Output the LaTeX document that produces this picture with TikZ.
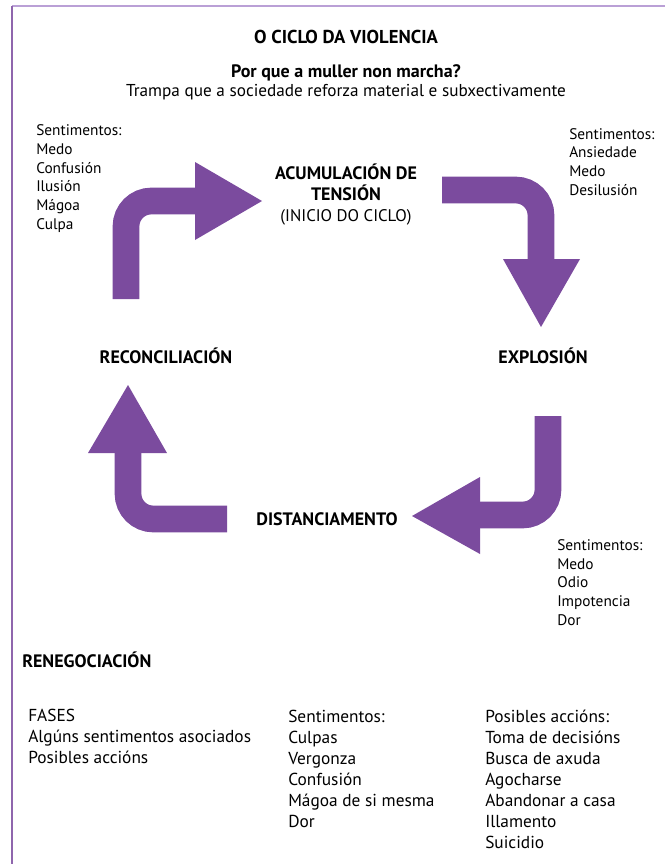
\documentclass[tikz,border=0pt]{standalone}
\usepackage{fontspec}
\setmainfont{PT Sans}
\usepackage{xcolor}
\definecolor{cyclepurple}{RGB}{123,75,158}
\definecolor{framelilac}{RGB}{186,160,214}

\begin{document}
\begin{tikzpicture}[
    x=0.75pt, y=-0.75pt,
    txt/.style={inner sep=0pt, align=left, anchor=base west, font=\fontsize{11.5}{14}\selectfont},
    phase/.style={inner sep=0pt, align=center, anchor=base, font=\fontsize{13.5}{15.5}\selectfont\bfseries},
    bottomlist/.style={inner sep=0pt, align=left, anchor=base west, font=\fontsize{13}{15.75}\selectfont},
    shaft/.style={draw=cyclepurple, line width=20pt, rounded corners=19pt},
    head/.style={fill=cyclepurple},
]

\useasboundingbox (0,0) rectangle (665,864);

% Frame
\draw[framelilac, line width=1.2pt] (12,6) -- (665,6);
\draw[cyclepurple!85, line width=1.4pt] (12,6) -- (12,864);

% Header
\node[phase, font=\fontsize{14}{16}\selectfont\bfseries] (title) at (346,43) {O CICLO DA VIOLENCIA};
\node[phase] (question) at (346,77) {Por que a muller non marcha?};
\node[inner sep=0pt, anchor=base, font=\fontsize{12.9}{14}\selectfont] (subtitle) at (346,96) {Trampa que a sociedade reforza material e subxectivamente};

% Phases of the cycle
\node[phase] (tension) at (346,221) {ACUMULACIÓN DE\\TENSIÓN\\\mdseries\fontsize{12.6}{14}\selectfont(INICIO DO CICLO)};
\node[phase] (explosion) at (543,363) {EXPLOSIÓN};
\node[phase] (distance) at (327,525) {DISTANCIAMENTO};
\node[phase] (reconcil) at (166,363) {RECONCILIACIÓN};

% Feelings beside the cycle (anchored on the last line)
\node[txt] (feelTL) at (36,229) {Sentimentos:\\Medo\\Confusión\\Ilusión\\Mágoa\\Culpa};
\node[txt] (feelTR) at (569,195) {Sentimentos:\\Ansiedade\\Medo\\Desilusión};
\node[txt] (feelBR) at (557,625) {Sentimentos:\\Medo\\Odio\\Impotencia\\Dor};

% Arrows of the cycle
\coordinate (a1s) at (126,299);
\coordinate (a1e) at (197,201);
\coordinate (a2s) at (442,190);
\coordinate (a2e) at (541,261);
\coordinate (a3s) at (548,416);
\coordinate (a3e) at (478,515);
\coordinate (a4s) at (227,519);
\coordinate (a4e) at (128,451);

\draw[shaft] (a1s) |- (a1e);
\fill[head] (195,162) -- (262,201) -- (195,240) -- cycle;
\draw[shaft] (a2s) -| (a2e);
\fill[head] (503,259) -- (541,327) -- (580,259) -- cycle;
\draw[shaft] (a3s) |- (a3e);
\fill[head] (480,477) -- (412,516) -- (480,554) -- cycle;
\draw[shaft] (a4s) -| (a4e);
\fill[head] (88,453) -- (128,385) -- (167,453) -- cycle;

% Renegotiation table
\node[phase, anchor=base west] (reneg) at (22,667) {RENEGOCIACIÓN};
\node[bottomlist] (fases) at (28,763) {FASES\\Algúns sentimentos asociados\\Posibles accións};
\node[bottomlist] (feelings) at (288,827) {Sentimentos:\\Culpas\\Vergonza\\Confusión\\Mágoa de si mesma\\Dor};
\node[bottomlist] (actions) at (485,848) {Posibles accións:\\Toma de decisións\\Busca de axuda\\Agocharse\\Abandonar a casa\\Illamento\\Suicidio};

\end{tikzpicture}
\end{document}
